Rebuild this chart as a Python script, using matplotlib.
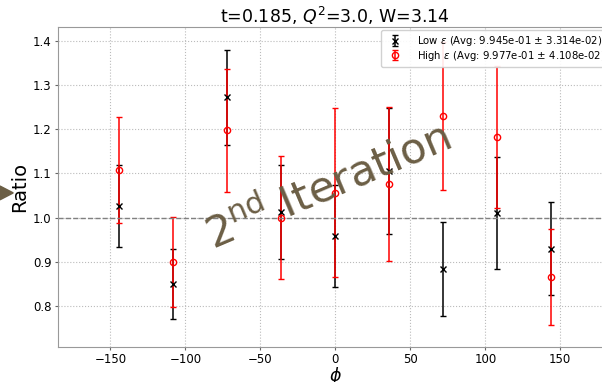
import matplotlib
matplotlib.use("Agg")
import matplotlib.pyplot as plt
from matplotlib.patches import Polygon

phi = [-144, -108, -72, -36, 0, 36, 72, 108, 144]
low_ratio = [1.026, 0.850, 1.272, 1.013, 0.958, 1.105, 0.883, 1.010, 0.930]
low_err = [0.093, 0.080, 0.108, 0.106, 0.116, 0.143, 0.106, 0.126, 0.105]
high_ratio = [1.107, 0.900, 1.197, 1.000, 1.056, 1.075, 1.230, 1.182, 0.865]
high_err = [0.120, 0.102, 0.140, 0.139, 0.191, 0.174, 0.167, 0.160, 0.109]

low_label = r"Low $\epsilon$ (Avg: 9.945e-01 $\pm$ 3.314e-02)"
high_label = r"High $\epsilon$ (Avg: 9.977e-01 $\pm$ 4.108e-02)"
title = r"t=0.185, $Q^2$=3.0, W=3.14"

fig = plt.figure(figsize=(6.02, 3.82), dpi=100)
ax = fig.add_axes([0.0963, 0.0924, 0.9216, 0.837])

ax.errorbar(phi, low_ratio, yerr=low_err, fmt="x", color="black", ms=4,
            elinewidth=1.1, capsize=2, label=low_label)
ax.errorbar(phi, high_ratio, yerr=high_err, fmt="o", color="red", mfc="none",
            ms=4.5, elinewidth=1.1, capsize=2, label=high_label)
ax.axhline(1.0, color="gray", ls="--", lw=1)

ax.set_xlim(-185, 185)
ax.set_ylim(0.708, 1.431)
ax.set_xlabel(r"$\phi$", fontsize=12.5, labelpad=-1)
ax.set_ylabel("Ratio", fontsize=14, labelpad=3)
ax.set_title(title, fontsize=12.5, pad=2)
ax.tick_params(labelsize=8.5, length=2.5, pad=2, color="#666666")
ax.grid(True, ls=":", color="#bbbbbb", lw=0.8)
for s in ax.spines.values():
    s.set_color("#999999")
ax.legend(loc="upper right", fontsize=7.3, framealpha=0.9, labelspacing=0.05,
          borderaxespad=0.3, handletextpad=1.2)

fig.text(0.546, 0.51, r"2$^{\rm nd}$ Iteration", fontsize=31, color="#6b5e45",
         rotation=23, ha="center", va="center", zorder=10)

tri = Polygon([[0.0, 0.513], [0.022, 0.495], [0.0, 0.477]], closed=True,
              transform=fig.transFigure, color="#6b5e45", clip_on=False)
fig.patches.append(tri)

fig.savefig("out.png", dpi=100)
